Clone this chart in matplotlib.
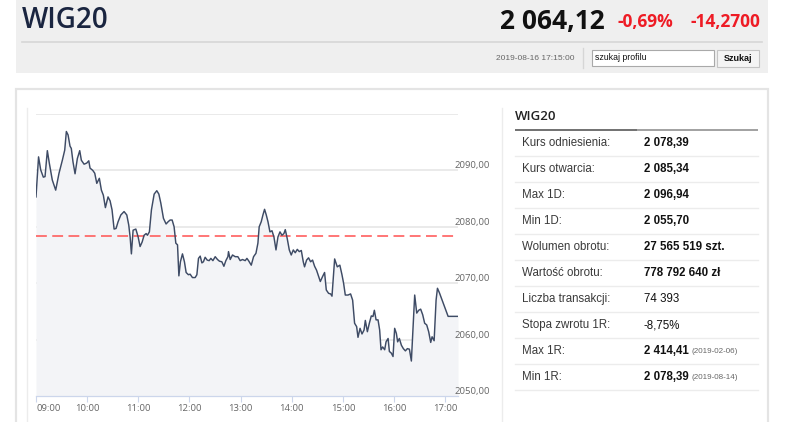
import matplotlib
matplotlib.use("Agg")
import matplotlib.pyplot as plt
from matplotlib.patches import Rectangle
from matplotlib import transforms as mtransforms
import numpy as np

# ---------------- data ----------------
minutes = [0, 3, 5.5, 8.6, 10.6, 13.3, 15.6, 19.1, 23.1, 27, 30.9, 33.7, 35.6, 37.6, 39.9, 41.4,
           43.4, 45.8, 48.5, 51.3, 53.2, 56.4, 59.5, 61.9, 63.4, 66.6, 68.9, 71.3, 74.3, 76.7, 79,
           81.4, 84.5, 86.9, 89.2, 91.6, 93.9, 96.3, 99.5, 103.3, 106.5, 108.8, 110.4, 111.9, 113.9,
           117.1, 119.8, 122.1, 124.5, 126.8, 129.2, 130.7, 133, 135.4, 138.6, 141.7, 144.1, 146.4,
           149.5, 152.6, 155, 157.3, 159.7, 162, 164, 166, 167.6,
           169.4, 171.8, 174.1, 176.1, 178.8, 180.8, 183.5, 186.7, 188.7, 190.6, 192.6, 194.6, 196.4,
           198.4, 200.8, 203.1, 205.1, 207.5, 210.2, 212.9, 215.2, 218, 220.4, 222.7, 225.1, 225.8,
           227.8, 230.5, 233.7, 236.8, 239.5, 242.2, 245.4, 247.4, 249.3, 252.5, 255.2, 258, 260.3,
           261.8, 264.2, 266.2, 268.1, 270.1, 272.1, 274.4, 276.8, 279.1, 281.5, 283.8, 286.2, 288.5,
           290.8, 292.4, 294.7, 297.1, 299.4, 301.8, 304.1, 306.5, 308.8, 311.2, 313.5, 315, 317.4,
           319.7, 322.1, 324.4, 326.8, 329.1, 331.5, 333.5, 336.2, 338.5, 340.5, 343.2, 345.6, 347.2,
           350.3, 353.4, 356.4, 358.9, 360.8, 362.8, 366, 369, 371.4, 373.7, 376.1, 377.7, 380.1,
           382.4, 384.8, 386.3, 388.7, 391, 393.3, 395.3, 396.9, 398.9, 401.2, 403.1, 404.7, 406.6,
           409, 410.6, 413, 414.5, 416.8, 418.8, 420.7, 422.7, 424.2, 426.2, 428.6, 430.9, 433.3,
           435.6, 438, 440.3, 442.7, 444.2, 446.6, 448.9, 451.2, 453.6, 455.9, 458.3, 460.6, 463,
           464.6, 467, 469.3, 470.9, 473.2, 483.4, 495]
wig20 = [2085.3, 2092.4, 2090.1, 2088.8, 2088.9, 2093.5, 2091.3, 2088.3, 2086.5, 2089.5, 2091.8,
         2093.6, 2096.9, 2096.3, 2094.3, 2093.9, 2091.5, 2089.4, 2092.1, 2093.5, 2091.8, 2091.1,
         2091.3, 2091.7, 2090.4, 2090.0, 2089.5, 2087.7, 2088.6, 2086.5, 2085.6, 2083.4, 2085.3,
         2084.6, 2083.0, 2079.6, 2079.7, 2080.9, 2082.1, 2082.7, 2082.1, 2080.3, 2078.2, 2075.2,
         2079.4, 2079.6, 2078.2, 2076.5, 2077.3, 2078.5, 2078.8, 2078.5, 2079.1, 2083.0, 2085.8,
         2086.4, 2085.8, 2084.2, 2081.5, 2080.5, 2080.9, 2081.2, 2081.2, 2080.0, 2077.1, 2076.8,
         2071.3,
         2073.8, 2075.2, 2073.8, 2071.9, 2071.5, 2071.6, 2071.0, 2071.0, 2071.5, 2074.4, 2074.8,
         2073.6, 2073.8, 2074.6, 2074.1, 2074.0, 2074.4, 2074.0, 2074.7, 2074.2, 2073.9, 2073.8,
         2073.0, 2074.0, 2074.7, 2075.6, 2074.2, 2075.0, 2074.7, 2074.7, 2074.0, 2074.2, 2074.0,
         2074.4, 2074.0, 2073.2, 2074.7, 2075.3, 2077.1, 2080.0, 2080.9, 2082.1, 2083.1, 2082.1,
         2080.9, 2079.1, 2079.3, 2078.2, 2075.9, 2078.2, 2079.1, 2078.5, 2078.8, 2079.5, 2077.9,
         2075.9, 2075.0, 2075.9, 2075.4, 2076.0, 2075.6, 2075.8, 2073.8, 2072.9, 2074.1, 2074.5,
         2073.8, 2074.1, 2073.0, 2072.3, 2071.2, 2070.3, 2071.2, 2071.9, 2068.8, 2068.2, 2068.1,
         2067.7, 2074.3, 2072.9, 2073.2, 2071.5, 2070.0, 2067.9, 2067.9, 2068.1, 2067.0, 2062.9,
         2062.3, 2060.4, 2062.0, 2061.0, 2061.7, 2063.4, 2061.4, 2062.9, 2064.2, 2064.1, 2065.2,
         2063.5, 2063.5, 2061.7, 2058.2, 2058.7, 2058.2, 2059.6, 2060.2, 2057.9, 2057.6, 2057.0,
         2062.0, 2061.1, 2059.6, 2060.2, 2059.0, 2058.4, 2058.0, 2058.4, 2058.3, 2056.2, 2063.2,
         2067.9, 2064.7, 2065.2, 2065.4, 2064.4, 2062.9, 2062.6, 2061.4, 2059.5, 2060.5, 2059.8,
         2067.0, 2069.1, 2068.3, 2064.12, 2064.12]
reference_level = 2078.39
y_ticks = [2050, 2060, 2070, 2080, 2090]
grid_levels = [2060, 2070, 2080, 2090, 2100]
x_hours = [9, 10, 11, 12, 13, 14, 15, 16, 17]
x_labels = ["09:00", "10:00", "11:00", "12:00", "13:00", "14:00", "15:00", "16:00", "17:00"]

title = "WIG20"
last_price = "2 064,12"
change_pct = "-0,69%"
change_abs = "-14,2700"
timestamp = "2019-08-16 17:15:00"
search_placeholder = "szukaj profilu"
search_button = "Szukaj"

row_labels = ["Kurs odniesienia:", "Kurs otwarcia:", "Max 1D:", "Min 1D:", "Wolumen obrotu:",
              "Wartość obrotu:", "Liczba transakcji:", "Stopa zwrotu 1R:", "Max 1R:", "Min 1R:"]
row_values = ["2 078,39", "2 085,34", "2 096,94", "2 055,70", "27 565 519 szt.",
              "778 792 640 zł", "74 393", "-8,75%", "2 414,41", "2 078,39"]
row_bold = [True, True, True, True, True, True, False, False, True, True]
row_notes = ["", "", "", "", "", "", "", "", "(2019-02-06)", "(2019-08-14)"]

# ---------------- figure ----------------
W, H = 786, 422
fig = plt.figure(figsize=(W / 100, H / 100), dpi=100)
fig.patch.set_facecolor("white")

bg = fig.add_axes([0, 0, 1, 1])
bg.set_xlim(0, W)
bg.set_ylim(H, 0)
bg.axis("off")

# header band
bg.add_patch(Rectangle((16, 0), 752, 73, facecolor="#efefef", edgecolor="none"))
bg.plot([22, 762], [42, 42], color="#d6d6d6", lw=1.2)
bg.plot([583, 583], [48, 68], color="#d6d6d6", lw=1.0)
bg.text(22, 21, title, fontsize=20, family="Open Sans", weight="semibold", color="#1a2540",
        va="center", ha="left")
bg.text(605, 21, last_price, fontsize=19, family="Open Sans", weight="bold", color="#111111",
        va="center", ha="right")
bg.text(617, 22, change_pct, fontsize=12.5, family="Open Sans", weight="bold", color="#ee1c25",
        va="center", ha="left")
bg.text(760, 22, change_abs, fontsize=12.5, family="Open Sans", weight="bold", color="#ee1c25",
        va="center", ha="right")
bg.text(575, 58.5, timestamp, fontsize=6, family="Liberation Sans", color="#666666",
        va="center", ha="right")
bg.add_patch(Rectangle((592, 50), 122, 16, facecolor="white", edgecolor="#a9a9a9", lw=0.8))
bg.text(595, 58, search_placeholder, fontsize=6.3, family="Liberation Sans", color="#111111",
        va="center", ha="left")
bg.add_patch(Rectangle((717, 50), 42, 17, facecolor="#f4f4f4", edgecolor="#c4c4c4", lw=0.8))
bg.text(738, 58.5, search_button, fontsize=6.5, family="Liberation Sans", weight="bold",
        color="#111111", va="center", ha="center")

# main panel
bg.add_patch(Rectangle((16, 89), 752, 345, facecolor="white", edgecolor="#e4e4e4", lw=1.6))
bg.plot([27, 27], [108, H], color="#ececec", lw=1.0)
bg.plot([502, 502], [108, H], color="#ececec", lw=1.0)

# right table
bg.text(515, 117, title, fontsize=9.5, family="Open Sans", weight="semibold", color="#222222",
        va="center", ha="left")
bg.plot([515, 637], [130, 130], color="#666666", lw=1.3, solid_capstyle="butt")
bg.plot([637, 758], [130, 130], color="#9a9a9a", lw=1.3, solid_capstyle="butt")

row_top = 143
row_step = 26
value_texts = []
for i, (lab, val, b) in enumerate(zip(row_labels, row_values, row_bold)):
    yc = row_top + i * row_step
    bg.text(522, yc, lab, fontsize=8.3, family="Liberation Sans", color="#3a3a3a",
            va="center", ha="left")
    t = bg.text(644, yc, val, fontsize=8.3, family="Liberation Sans",
                weight="bold" if b else "normal", color="#111111", va="center", ha="left")
    value_texts.append(t)
    bg.plot([515, 758], [yc + 13, yc + 13], color="#ececec", lw=1.0)

fig.canvas.draw()
renderer = fig.canvas.get_renderer()
inv = bg.transData.inverted()
for i, (t, note) in enumerate(zip(value_texts, row_notes)):
    if note:
        bb = t.get_window_extent(renderer)
        x_end = inv.transform((bb.x1, bb.y0))[0]
        yc = row_top + i * row_step
        bg.text(x_end + 3, yc + 0.5, note, fontsize=5.8, family="Liberation Sans",
                color="#666666", va="center", ha="left")

# ---------------- chart ----------------
left_px, right_px, top_px, bottom_px = 36, 458, 114, 396
ax = fig.add_axes([left_px / W, (H - bottom_px) / H, (right_px - left_px) / W,
                   (bottom_px - top_px) / H])
ax.set_facecolor("none")

hours = 9 + np.array(minutes) / 60.0
vals = np.array(wig20)
ax.set_xlim(9, 9 + 495 / 60)
ax.set_ylim(2050, 2100)

for g in grid_levels:
    ax.axhline(g, color="#e8e8e8", lw=1.3, zorder=1)

ax.fill_between(hours, vals, 2050, color="#f3f4f7", lw=0, zorder=2)
ax.plot(hours, vals, color="#3e4b65", lw=1.05, zorder=4)
ax.axhline(reference_level, color="#ff5252", lw=1.3, dashes=(6, 3), alpha=0.85, zorder=3)

for s in ["top", "right", "left"]:
    ax.spines[s].set_visible(False)
ax.spines["bottom"].set_color("#ccd6eb")
ax.spines["bottom"].set_linewidth(0.9)
ax.spines["bottom"].set_zorder(5)

ax.set_yticks([])
ax.set_xticks(x_hours)
ax.set_xticklabels(x_labels, fontsize=6.8, family="Open Sans", color="#666666")
ax.tick_params(axis="x", length=4, width=0.8, color="#ccd6eb", pad=1.5)
ax.get_xticklabels()[0].set_ha("left")

ylab_tr = mtransforms.offset_copy(ax.get_yaxis_transform(), fig=fig, x=-3, y=4.5, units="dots")
for v in y_ticks:
    ax.text(1.0, v, f"{v},00", transform=ylab_tr, fontsize=6.8, family="Open Sans",
            color="#666666", ha="left", va="center", clip_on=False)

fig.savefig("out.png", dpi=100, facecolor="white")
